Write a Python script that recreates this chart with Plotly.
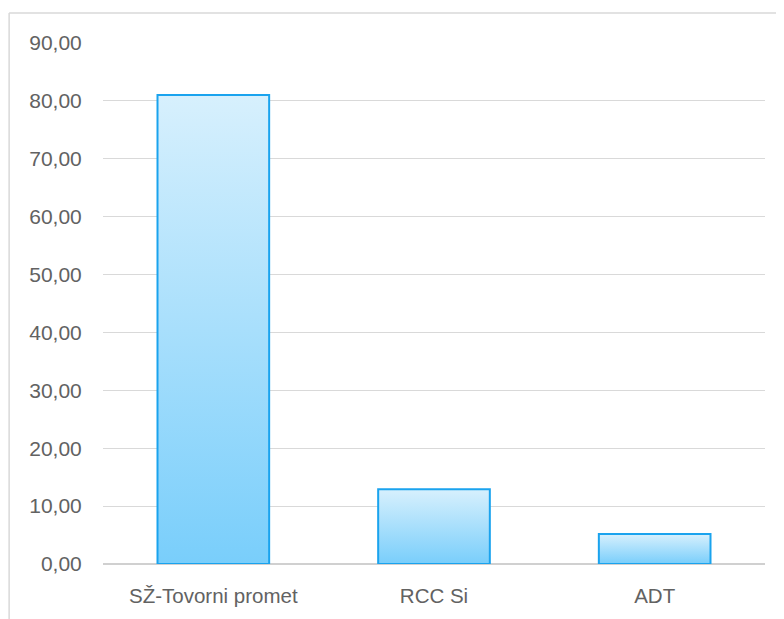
import plotly.graph_objects as go

categories = ["SŽ-Tovorni promet", "RCC Si", "ADT"]
values = [81.0, 12.9, 5.2]
y_ticks = [0, 10, 20, 30, 40, 50, 60, 70, 80, 90]

half_w = 0.253
fig = go.Figure()
for i, (cat, v) in enumerate(zip(categories, values)):
    fig.add_trace(go.Scatter(
        x=[i - half_w, i - half_w, i + half_w, i + half_w, i - half_w],
        y=[0, v, v, 0, 0],
        mode="lines",
        fill="toself",
        fillgradient=dict(type="vertical",
                          colorscale=[[0, "#79CEFB"], [1, "#D7F0FD"]]),
        line=dict(color="#1AA3EE", width=2),
        name=cat,
        hoverinfo="skip",
        showlegend=False,
    ))

# page body has an 8px margin, so figure coordinates are offset by 8px
fig.update_layout(
    width=784, height=619,
    margin=dict(l=94.5, r=26.5, t=35, b=63),
    paper_bgcolor="white", plot_bgcolor="white",
    separators=",.",
    font=dict(family="Liberation Sans, Arial, sans-serif", size=20, color="#626262"),
    xaxis=dict(
        range=[-0.5, 2.5],
        tickvals=list(range(len(categories))),
        ticktext=categories,
        tickfont=dict(size=20.5),
        showgrid=False, zeroline=False,
        showline=False,
        ticks="outside", ticklen=13, tickcolor="rgba(0,0,0,0)",
        fixedrange=True,
    ),
    yaxis=dict(
        range=[0, 90],
        tickvals=y_ticks,
        tickformat=".2f",
        tickfont=dict(size=21),
        showgrid=True, gridcolor="#D9D9D9", gridwidth=1,
        zeroline=True, zerolinecolor="#D0D0D0", zerolinewidth=2,
        showline=False,
        ticks="outside", ticklen=16, tickcolor="rgba(0,0,0,0)",
    ),
    shapes=[
        dict(type="line", xref="paper", yref="paper",
             x0=-0.1418, x1=1.05, y0=1.0576, y1=1.0576,
             line=dict(color="#D9D9D9", width=1.5)),
        dict(type="line", xref="paper", yref="paper",
             x0=-0.1418, x1=-0.1418, y0=1.0576, y1=-0.14,
             line=dict(color="#D9D9D9", width=1.5)),
    ],
)

fig.write_html("out.html")
